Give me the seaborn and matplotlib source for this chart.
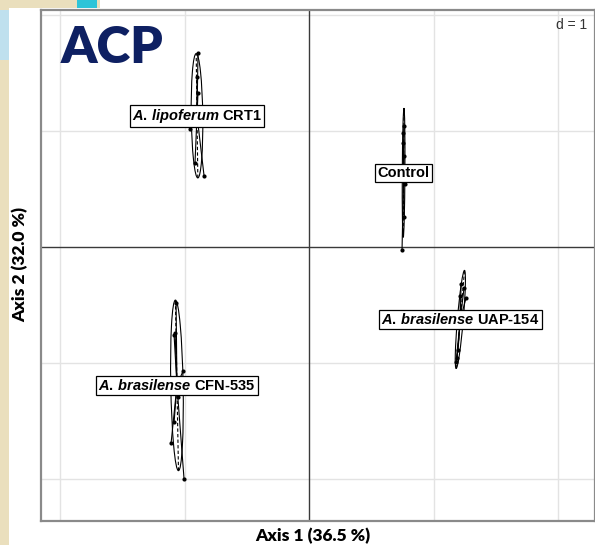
import numpy as np
import pandas as pd
import matplotlib
matplotlib.use("Agg")
import matplotlib.pyplot as plt
from matplotlib.patches import Ellipse, Rectangle
import seaborn as sns

# Individual scores on the first two principal axes, by inoculation group
groups = ["A. lipoferum CRT1", "Control", "A. brasilense CFN-535", "A. brasilense UAP-154"]
labels = [r"$\mathit{A.\!\ lipoferum}$ CRT1", "Control",
          r"$\mathit{A.\!\ brasilense}$ CFN-535", r"$\mathit{A.\!\ brasilense}$ UAP-154"]

crt1_x = [-0.892, -0.900, -0.892, -0.900, -0.956, -0.916, -0.843]
crt1_y = [1.672, 1.466, 1.328, 1.100, 1.017, 0.724, 0.612]

control_x = [0.763, 0.755, 0.755, 0.763, 0.771, 0.763, 0.747]
control_y = [1.043, 0.983, 0.897, 0.784, 0.543, 0.259, -0.026]

cfn535_x = [-1.068, -1.084, -1.076, -1.012, -1.052, -1.084, -1.108, -1.004]
cfn535_y = [-0.483, -0.759, -0.740, -1.069, -1.293, -1.509, -1.690, -2.000]

uap154_x = [1.221, 1.245, 1.213, 1.261, 1.197, 1.189, 1.181]
uap154_y = [-0.319, -0.353, -0.422, -0.440, -0.888, -0.957, -0.991]

xs = [crt1_x, control_x, cfn535_x, uap154_x]
ys = [crt1_y, control_y, cfn535_y, uap154_y]

df = pd.concat(
    [pd.DataFrame({"group": g, "x": x, "y": y}) for g, x, y in zip(groups, xs, ys)],
    ignore_index=True,
)

sns.set_style("white")
plt.rcParams["mathtext.fontset"] = "custom"
plt.rcParams["mathtext.it"] = "Liberation Sans:italic:bold"
plt.rcParams["mathtext.rm"] = "Liberation Sans:bold"

W, H = 595, 545
fig = plt.figure(figsize=(W / 100, H / 100), dpi=100)
ax = fig.add_axes([41 / W, (H - 521) / H, (W - 41) / W, (521 - 10) / H])

xmin, xmax = -2.153, 2.297
ymin, ymax = -2.362, 2.043
ax.set_xlim(xmin, xmax)
ax.set_ylim(ymin, ymax)

# unit grid (d = 1) and the two principal axes
for v in range(-2, 3):
    if v != 0:
        ax.axvline(v, color="#e3e3e3", lw=1.0, zorder=0)
        ax.axhline(v, color="#e3e3e3", lw=1.0, zorder=0)
ax.axvline(0, color="#3a3a3a", lw=1.0, zorder=1)
ax.axhline(0, color="#3a3a3a", lw=1.0, zorder=1)

cell = 1.5
for g, lab in zip(groups, labels):
    sub = df[df.group == g]
    pts = sub[["x", "y"]].to_numpy()
    c = pts.mean(axis=0)
    # star: segment from the group centroid to every individual
    for p in pts:
        ax.plot([c[0], p[0]], [c[1], p[1]], color="black", lw=0.8, zorder=2)
    # inertia ellipse with its axes
    cov = np.cov(pts.T, bias=True)
    vals, vecs = np.linalg.eigh(cov)
    vals = np.clip(vals, 1e-6, None)
    ang = np.degrees(np.arctan2(vecs[1, 1], vecs[0, 1]))
    ax.add_patch(Ellipse(c, 2 * cell * np.sqrt(vals[1]), 2 * cell * np.sqrt(vals[0]),
                         angle=ang, fill=False, edgecolor="black", lw=0.8, zorder=2))
    for k in range(2):
        d = vecs[:, k] * cell * np.sqrt(vals[k])
        ax.plot([c[0] - d[0], c[0] + d[0]], [c[1] - d[1], c[1] + d[1]],
                color="black", lw=0.8, ls=(0, (3, 2)), zorder=2)
    ax.text(c[0], c[1], lab, ha="center", va="center", fontsize=10.5,
            fontweight="bold", family="Liberation Sans", color="black", zorder=5,
            bbox=dict(boxstyle="square,pad=0.15", fc="white", ec="black", lw=0.9))

sns.scatterplot(data=df, x="x", y="y", color="black", s=9, edgecolor="black",
                linewidth=0, legend=False, ax=ax, zorder=3)

ax.set_xticks([])
ax.set_yticks([])
ax.set_xlabel("")
ax.set_ylabel("")
for s in ax.spines.values():
    s.set_color("#8a8a8a")
    s.set_linewidth(1.6)

ax.text(0.985, 0.985, "d = 1", transform=ax.transAxes, ha="right", va="top",
        fontsize=10, family="Liberation Sans", color="#333333")

fig.text(61 / W, 1 - 48 / H, "ACP", ha="left", va="center", fontsize=37,
         fontweight="heavy", family="Lato", color="#0e2062")

fig.text(313 / W, 1 - 536 / H, "Axis 1 (36.5 %)", ha="center", va="center",
         fontsize=12.5, fontweight="heavy", family="Lato", color="black")
fig.text(20 / W, 1 - 265 / H, "Axis 2 (32.0 %)", ha="center", va="center",
         rotation=90, fontsize=12.5, fontweight="heavy", family="Lato", color="black")

# slide background peeking at the left and top edges
fig.patches.append(Rectangle((0, 0), 9 / W, 1, transform=fig.transFigure,
                             fc="#eadfbd", ec="none", zorder=-1))
fig.patches.append(Rectangle((0, 1 - 60 / H), 9 / W, 50 / H, transform=fig.transFigure,
                             fc="#bfe0ee", ec="none", zorder=-1))
fig.patches.append(Rectangle((0, 1 - 8 / H), 100 / W, 8 / H, transform=fig.transFigure,
                             fc="#eadfbd", ec="none", zorder=-1))
fig.patches.append(Rectangle((77 / W, 1 - 8 / H), 20 / W, 8 / H, transform=fig.transFigure,
                             fc="#2ec4d8", ec="none", zorder=-1))

fig.savefig("out.png", dpi=100)
